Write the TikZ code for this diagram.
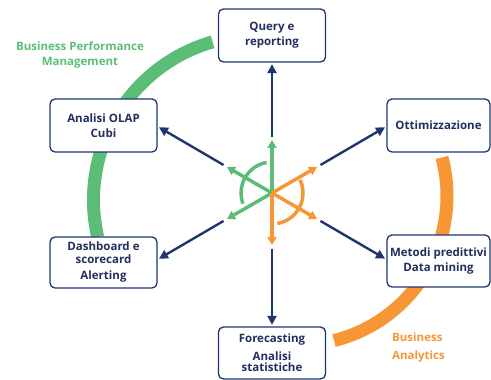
\documentclass[tikz,border=0pt]{standalone}
\usepackage{fontspec}
\setmainfont{Open Sans}
\usetikzlibrary{arrows.meta}
\definecolor{navy}{RGB}{32,52,112}
\definecolor{txtnavy}{RGB}{36,46,96}
\definecolor{bgreen}{RGB}{92,190,118}
\definecolor{borange}{RGB}{247,150,52}
\begin{document}
\begin{tikzpicture}[x=1pt,y=1pt,
  box/.style={draw=navy, line width=1.3pt, rounded corners=5pt, fill=white,
    minimum width=107pt, minimum height=53pt, align=center, text=txtnavy,
    font=\bfseries\fontsize{11.5}{15}\selectfont, inner sep=2pt},
  bluearrow/.style={draw=navy, line width=2.4pt, shorten >=1.5pt,
    -{Triangle[length=9pt,width=9pt]}},
  garrow/.style={draw=bgreen, line width=3.5pt, -{Triangle[length=8pt,width=9pt]}},
  oarrow/.style={draw=borange, line width=3.5pt, -{Triangle[length=8pt,width=9pt]}},
  bigarc/.style={line width=13pt},
  smallarc/.style={line width=3.5pt},
  lbl/.style={font=\bfseries\fontsize{11.5}{15}\selectfont, inner sep=0pt}
]
\useasboundingbox (0,0) rectangle (491,380);

% centres
\coordinate (S) at (272,187);
\coordinate (gc) at (258,180);
\coordinate (oc) at (298,184);

% big arcs
\draw[bgreen, bigarc] (gc) ++(106:164.5) arc[start angle=106, end angle=193, radius=164.5];
\draw[borange, bigarc] (oc) ++(15:149) arc[start angle=15, end angle=-76, radius=149];

% boxes
\node[box] (q) at (272,344.5) {Query e\\reporting};
\node[box, minimum width=103pt] (opt) at (438.5,254.5) {Ottimizzazione};
\node[box] (olap) at (103.5,254.5) {Analisi OLAP\\Cubi};
\node[box, minimum height=51pt] (dash) at (103.5,117.5) {Dashboard e\\[-2pt]scorecard\\[1pt]Alerting};
\node[box, minimum height=52pt] (fore) at (272,27) {Forecasting\\[3pt]Analisi\\[-4pt]statistiche};
\node[box, minimum width=103pt, minimum height=52pt] (met) at (438.5,119) {Metodi predittivi\\Data mining};

% labels
\node[lbl, text=bgreen, align=center] (bpm) at (80,325.5) {Business Performance\\Management};
\node[lbl, text=borange, align=left, anchor=west] (ba) at (392,32) {Business\\[3pt]Analytics};

% small arcs
\draw[bgreen, smallarc] (S) ++(100:31) arc[start angle=100, end angle=200, radius=31];
\draw[borange, smallarc] (S) ++(25:31) arc[start angle=25, end angle=-80, radius=31];

% small arrows
\path (S) ++(90:53) coordinate (g1);
\path (S) ++(150:52) coordinate (g2);
\path (S) ++(210:52) coordinate (g3);
\path (S) ++(30:52) coordinate (o1);
\path (S) ++(-30:52) coordinate (o2);
\path (S) ++(-90:52) coordinate (o3);
\draw[garrow] (S) -- (g1);
\draw[garrow] (S) -- (g2);
\draw[garrow] (S) -- (g3);
\draw[oarrow] (S) -- (o1);
\draw[oarrow] (S) -- (o2);
\draw[oarrow] (S) -- (o3);

% blue arrows
\path (S) ++(90:56) coordinate (bq);
\path (S) ++(30:56) coordinate (bo);
\path (S) ++(150:56) coordinate (bl);
\path (S) ++(210:56) coordinate (bd);
\path (S) ++(-30:56) coordinate (bm);
\path (S) ++(-90:56) coordinate (bf);
\draw[bluearrow] (bq) -- (q.south);
\draw[bluearrow] (bo) -- ([yshift=-1pt]opt.west);
\draw[bluearrow] (bl) -- ([yshift=-1pt]olap.east);
\draw[bluearrow] (bd) -- ([yshift=3pt]dash.east);
\draw[bluearrow] (bm) -- ([yshift=1.6pt]met.west);
\draw[bluearrow] (bf) -- (fore.north);
\end{tikzpicture}
\end{document}
